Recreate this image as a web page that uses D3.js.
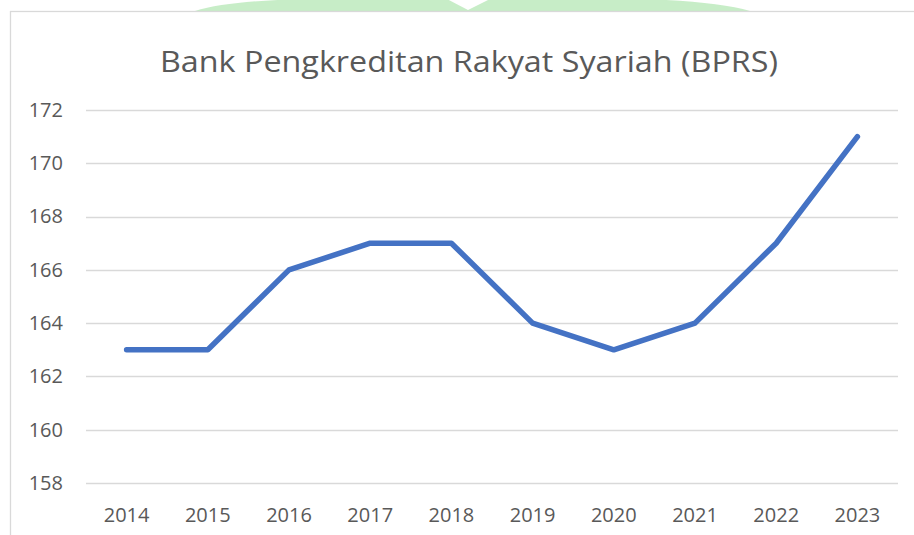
<!DOCTYPE html>
<html>
<head>
<meta charset="utf-8">
<script src="https://cdn.jsdelivr.net/npm/d3@7"></script>
<style>
  body { margin: 0; background: #fff; }
  svg { display: block; }
</style>
</head>
<body>
<div id="chart"></div>
<script>
// data
var years = ['2014', '2015', '2016', '2017', '2018', '2019', '2020', '2021', '2022', '2023']
var bprsCount = [163, 163, 166, 167, 167, 164, 163, 164, 167, 171]
var yTicks = [158, 160, 162, 164, 166, 168, 170, 172]
var chartTitle = 'Bank Pengkreditan Rakyat Syariah (BPRS)'

var W = 914, H = 535
var plot = {left: 86, right: 898, top: 110, bottom: 483}
var textColor = '#595959'
var gridColor = '#d9d9d9'
var lineColor = '#4472C4'
var font = 'Open Sans, Noto Sans, sans-serif'

var svg = d3.select('#chart').append('svg')
  .attr('width', W)
  .attr('height', H)

// faint green watermark peeking above the frame
var wm = svg.append('g').attr('opacity', 0.5)
wm.append('path')
  .attr('d', 'M195,11 C230,0 300,-2 380,-2 L445,-2 L468,10 L492,-2 L580,-2 C660,-2 720,2 750,11 Z')
  .attr('fill', '#8fdc8f')

// chart frame
svg.append('rect')
  .attr('x', 10.5).attr('y', 11.5)
  .attr('width', W + 10).attr('height', H + 10)
  .attr('fill', '#fff')
  .attr('stroke', gridColor)
  .attr('stroke-width', 1.3)

var x = d3.scaleBand()
  .domain(years)
  .range([plot.left, plot.right])

var y = d3.scaleLinear()
  .domain([158, 172])
  .range([plot.bottom, plot.top])

// gridlines
svg.append('g')
  .selectAll('line')
  .data(yTicks)
  .enter()
  .append('line')
  .attr('x1', plot.left)
  .attr('x2', plot.right)
  .attr('y1', function(d) { return Math.round(y(d)) + 0.5 })
  .attr('y2', function(d) { return Math.round(y(d)) + 0.5 })
  .attr('stroke', gridColor)
  .attr('stroke-width', 1.3)

// y axis labels
var yAxis = d3.axisLeft(y).tickValues(yTicks).tickSize(0).tickPadding(23)
var gy = svg.append('g')
  .attr('transform', 'translate(' + plot.left + ',0)')
  .call(yAxis)
gy.select('.domain').remove()
gy.selectAll('text')
  .attr('fill', textColor)
  .attr('font-family', font)
  .attr('font-size', 20)

// x axis labels
var xAxis = d3.axisBottom(x).tickSize(0).tickPadding(25)
var gx = svg.append('g')
  .attr('transform', 'translate(0,' + plot.bottom + ')')
  .call(xAxis)
gx.select('.domain').remove()
gx.selectAll('text')
  .attr('fill', textColor)
  .attr('font-family', font)
  .attr('font-size', 20)

// line
var line = d3.line()
  .x(function(d, i) { return x(years[i]) + x.bandwidth() / 2 })
  .y(function(d) { return y(d) })

svg.append('path')
  .datum(bprsCount)
  .attr('d', line)
  .attr('fill', 'none')
  .attr('stroke', lineColor)
  .attr('stroke-width', 5.5)
  .attr('stroke-linecap', 'round')
  .attr('stroke-linejoin', 'round')

// title
svg.append('text')
  .attr('x', 469)
  .attr('y', 72)
  .attr('text-anchor', 'middle')
  .attr('fill', textColor)
  .attr('font-family', font)
  .attr('font-size', 30)
  .attr('textLength', 618)
  .attr('lengthAdjust', 'spacingAndGlyphs')
  .text(chartTitle)
</script>
</body>
</html>
